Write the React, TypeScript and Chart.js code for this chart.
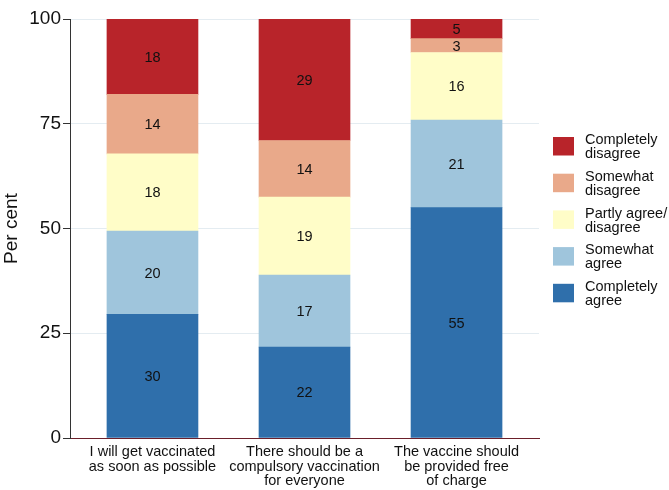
import React, { useEffect, useRef } from "react";
import { Chart, registerables } from "chart.js";
Chart.register(...registerables);

const categories: string[][] = [
  ["I will get vaccinated", "as soon as possible"],
  ["There should be a", "compulsory vaccination", "for everyone"],
  ["The vaccine should", "be provided free", "of charge"],
];
const seriesNames = [
  "Completely agree",
  "Somewhat agree",
  "Partly agree/disagree",
  "Somewhat disagree",
  "Completely disagree",
];
const legendLines: string[][] = [
  ["Completely", "agree"],
  ["Somewhat", "agree"],
  ["Partly agree/", "disagree"],
  ["Somewhat", "disagree"],
  ["Completely", "disagree"],
];
const completelyAgree = [29.5, 21.7, 55.0];
const somewhatAgree = [19.9, 17.2, 20.9];
const partlyAgree = [18.4, 18.6, 16.1];
const somewhatDisagree = [14.2, 13.5, 3.3];
const completelyDisagree = [18.0, 29.0, 4.7];
const seriesValues = [completelyAgree, somewhatAgree, partlyAgree, somewhatDisagree, completelyDisagree];
const seriesColors = ["#2f6fab", "#9fc5dc", "#fffdc8", "#e9a98a", "#b8242a"];
const yTicks = [0, 25, 50, 75, 100];

const FONT = "'Liberation Sans', Arial, Helvetica, sans-serif";

const valueLabels = {
  id: "valueLabels",
  afterDatasetsDraw(chart: any) {
    const ctx = chart.ctx;
    ctx.save();
    ctx.font = `14.5px ${FONT}`;
    ctx.fillStyle = "#111";
    ctx.textAlign = "center";
    ctx.textBaseline = "middle";
    chart.data.datasets.forEach((ds: any, di: number) => {
      const meta = chart.getDatasetMeta(di);
      meta.data.forEach((bar: any, i: number) => {
        const v = seriesValues[di][i];
        const y = (bar.y + bar.base) / 2;
        ctx.fillText(String(Math.round(v)), bar.x, y + 1);
      });
    });
    ctx.restore();
  },
};

const sideLegend = {
  id: "sideLegend",
  afterDraw(chart: any) {
    const ctx = chart.ctx;
    const area = chart.chartArea;
    ctx.save();
    ctx.font = `14.5px ${FONT}`;
    ctx.textBaseline = "middle";
    ctx.textAlign = "left";
    const x0 = area.right + 14;
    const top0 = 137;
    const step = 36.7;
    for (let k = 0; k < seriesNames.length; k++) {
      const si = seriesNames.length - 1 - k;
      const top = top0 + k * step;
      ctx.fillStyle = seriesColors[si];
      ctx.fillRect(x0, top, 21, 18.5);
      ctx.fillStyle = "#111";
      const lines = legendLines[si];
      const cy = top + 9.25;
      ctx.fillText(lines[0], x0 + 32, cy - 6);
      ctx.fillText(lines[1], x0 + 32, cy + 8);
    }
    ctx.restore();
  },
};

export default function App() {
  const ref = useRef<HTMLCanvasElement | null>(null);
  useEffect(() => {
    if (!ref.current) return;
    const chart = new Chart(ref.current, {
      type: "bar",
      data: {
        datasets: seriesNames.map((name, si) => ({
          label: name,
          data: seriesValues[si].map((v, i) => ({ x: i, y: v })),
          backgroundColor: seriesColors[si],
          borderWidth: 0,
          barThickness: 91,
        })),
      },
      options: {
        animation: false,
        responsive: true,
        maintainAspectRatio: false,
        layout: { padding: { top: 19, right: 130, bottom: 0, left: 0 } },
        plugins: { legend: { display: false }, tooltip: { enabled: false } },
        scales: {
          x: {
            type: "linear",
            stacked: true,
            offset: false,
            min: -0.5425,
            max: 2.5425,
            afterBuildTicks: (s: any) => {
              s.ticks = categories.map((_, i) => ({ value: i }));
            },
            afterFit: (s: any) => {
              s.height = 52;
            },
            grid: { display: false, drawTicks: false, offset: false },
            border: { display: true, color: "#6b1f2a", width: 1 },
            ticks: {
              padding: 7,
              maxRotation: 0,
              autoSkip: false,
              color: "#111",
              font: { family: FONT, size: 14.5, lineHeight: 1.0 },
              callback: (v: any) => categories[Math.round(Number(v))] || "",
            },
          },
          y: {
            stacked: true,
            min: 0,
            max: 100,
            afterBuildTicks: (s: any) => {
              s.ticks = yTicks.map((v) => ({ value: v }));
            },
            afterFit: (s: any) => {
              s.width = 70;
            },
            grid: { color: "#e4ecf1", tickColor: "#333", tickLength: 7, drawTicks: true },
            border: { display: true, color: "#333", width: 1 },
            ticks: {
              padding: 2,
              color: "#111",
              font: { family: FONT, size: 19 },
            },
            title: {
              display: true,
              text: "Per cent",
              color: "#111",
              font: { family: FONT, size: 19 },
              padding: { top: 0, bottom: 0 },
            },
          },
        },
      },
      plugins: [valueLabels, sideLegend],
    } as any);
    return () => chart.destroy();
  }, []);
  return (
    <div style={{ position: "fixed", left: 0, top: 0, width: 669, height: 490, background: "#fff" }}>
      <canvas ref={ref} />
    </div>
  );
}
